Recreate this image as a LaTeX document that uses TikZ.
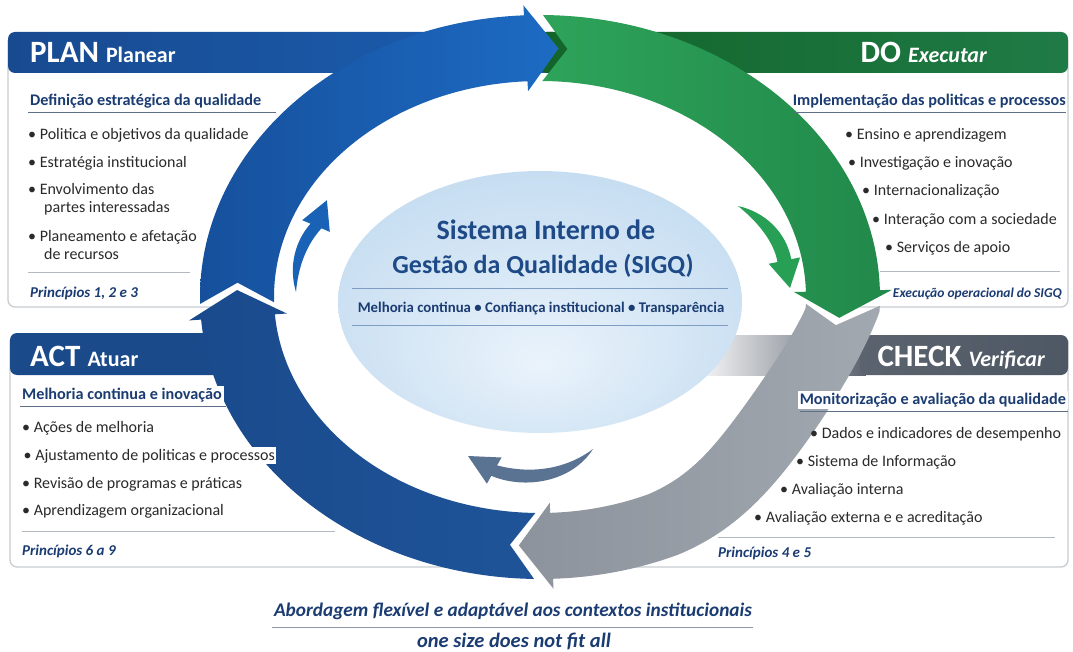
\documentclass[tikz,border=0pt]{standalone}
\usepackage{fontspec}
\setmainfont{Carlito}
\definecolor{bulc}{HTML}{2A2A2A}
\definecolor{navy}{HTML}{1B3C72}
\definecolor{titleblue}{HTML}{1E4A88}
\definecolor{sepgray}{HTML}{B4B9BF}
\definecolor{boxgray}{HTML}{C9CDD2}
\definecolor{ulgray}{HTML}{5E6F88}
\definecolor{planL}{HTML}{184A90}
\definecolor{planR}{HTML}{1B5FB2}
\definecolor{doH}{HTML}{1F7B46}
\definecolor{actH}{HTML}{1B4A8A}
\definecolor{chkD}{HTML}{5A636E}
\definecolor{chkE}{HTML}{4E5864}
\definecolor{ringPL}{HTML}{16509C}
\definecolor{ringPR}{HTML}{1D6BC4}
\definecolor{ringDL}{HTML}{2EA35A}
\definecolor{ringDR}{HTML}{21894A}
\definecolor{ringCL}{HTML}{8C939C}
\definecolor{ringCR}{HTML}{A2A8B0}
\definecolor{ringAL}{HTML}{194A8C}
\definecolor{ringAR}{HTML}{1F5499}
\definecolor{smB}{HTML}{1A62B5}
\definecolor{smG}{HTML}{27A055}
\definecolor{smS}{HTML}{5B7392}
\definecolor{ellA}{HTML}{EAF3FB}
\definecolor{ellB}{HTML}{C6DDF1}
\definecolor{ellC}{HTML}{A4C6E4}
\definecolor{ellLine}{HTML}{7F9DC2}
\pgfdeclareradialshading{ellshade}{\pgfpoint{0bp}{-12bp}}{color(0bp)=(ellA); color(30bp)=(ellB); color(50bp)=(ellC)}
\usetikzlibrary{calc}
\def\dent#1{(30*sin(max(0,min(180,(0-(#1)-3)*2.857))))}
\newcommand\ringseg[3]{%
 \pgfmathsetmacro\hb{#3+6.2}%
 \pgfmathsetmacro\nt{#2-4.7}%
 \shade[#1] plot[domain=#2:\hb, samples=80] ({540+(340-\dent{\x})*cos(\x)},{297-282*sin(\x)})
   -- ({540+(352-\dent{\hb})*cos(\hb)},{297-292*sin(\hb)})
   -- ({540+(303-\dent{#3})*cos(#3)},{297-249*sin(#3)})
   -- ({540+(254-\dent{\hb})*cos(\hb)},{297-206*sin(\hb)})
   -- plot[domain=\hb:#2, samples=80] ({540+(266-\dent{\x})*cos(\x)},{297-216*sin(\x)})
   -- ({540+(303-\dent{\nt})*cos(\nt)},{297-249*sin(\nt)}) -- cycle;}
\newcommand\hdrtext[2]{\fontsize{31}{33}\selectfont\bfseries #1\ \fontsize{22}{24}\selectfont #2}
\begin{document}
\begin{tikzpicture}[x=1pt,y=-1pt,
  bul/.style={anchor=base west, inner sep=0pt, text=bulc, font=\fontsize{16}{18}\selectfont},
  sub/.style={anchor=base west, inner sep=0pt, text=navy, font=\bfseries\fontsize{16.2}{19}\selectfont},
  subw/.style={sub, fill=white, inner sep=2pt},
  princ/.style={anchor=base west, inner sep=0pt, text=navy, font=\bfseries\itshape\fontsize{15}{17}\selectfont},
  hdr/.style={inner sep=0pt, text=white},
  boxb/.style={draw=boxgray, line width=1.3pt, rounded corners=7},
  sepl/.style={draw=sepgray, line width=1pt},
  ulin/.style={draw=ulgray, line width=0.9pt}]
\useasboundingbox (0,0) rectangle (1073,652);
\fill[white] (0,0) rectangle (1073,652);
% ---------- boxes ----------
\draw[boxb] (240,307) -- (8,307) -- (8,40);
\draw[boxb] (1068,40) -- (1068,307) -- (845,307);
\draw[boxb] (10,340) -- (10,567) -- (450,567);
\draw[boxb] (1068,340) -- (1068,567) -- (630,567);
% ---------- headers ----------
\shade[left color=planL, right color=planR, rounded corners=7] (8,32) rectangle (560,73);
\shade[left color=doH!85!green!70!black, right color=doH, rounded corners=7] (540,32) rectangle (1068,73);
\fill[actH, rounded corners=7] (10,333) rectangle (240,375);
\shade[left color=white, right color=chkD] (690,335) rectangle (866,375);
\shade[left color=chkD, right color=chkE, rounded corners=7] (860,335) rectangle (1068,375);
% ---------- ring ----------
\ringseg{left color=ringDL, right color=ringDR}{89.5}{-4.8}
\ringseg{left color=ringCL, right color=ringCR}{-1.8}{-94}
\ringseg{left color=ringAL, right color=ringAR}{-91}{-181.6}
\ringseg{left color=ringPL, right color=ringPR}{181.4}{86.5}
% ---------- small arrows ----------
\fill[smB] (296,292) .. controls (288,265) and (296,240) .. (310.5,223.7) -- (302.2,220.2) -- (326.9,200.2) -- (329.8,231.9) -- (321.5,228.3) .. controls (306,245) and (298,268) .. (296,292) -- cycle;
\fill[smG] (738,206) .. controls (765,212) and (786,232) .. (791.3,259.2) -- (800.1,257.4) -- (790,288) -- (768.7,263.8) -- (777.5,262.0) .. controls (774,242) and (758,222) .. (738,206) -- cycle;
\fill[smS] (593,449) .. controls (565,470) and (530,474) .. (497.1,465.4) -- (501.5,457.5) -- (468,456) -- (486.9,483.7) -- (491.3,475.8) .. controls (525,490) and (572,482) .. (593,449) -- cycle;
% ---------- center ellipse ----------
\shade[shading=ellshade] (540,302) ellipse [x radius=202, y radius=131];
\node[anchor=base, inner sep=0pt, text=titleblue, font=\bfseries\fontsize{28}{32}\selectfont] (t1) at (546,240) {Sistema Interno de};
\node[anchor=base, inner sep=0pt, text=titleblue, font=\bfseries\fontsize{26}{30}\selectfont] (t2) at (543,274) {Gestão da Qualidade (SIGQ)};
\draw[draw=ellLine, line width=1pt] (352,288) -- (728,288);
\node[anchor=base, inner sep=0pt, text=navy, font=\bfseries\fontsize{14.8}{17}\selectfont] (t3) at (541,312) {Melhoria continua • Confiança institucional • Transparência};
\draw[draw=ellLine, line width=1pt] (352,325) -- (728,325);
% ---------- PLAN ----------
\node[hdr, anchor=base west] (planh) at (30,63) {\hdrtext{PLAN}{Planear}};
\node[sub] (ps) at (30,106) {Definição estratégica da qualidade};
\draw[ulin] (28,112) -- (276,112);
\node[bul] (p1) at (28,140) {• Politica e objetivos da qualidade};
\node[bul] (p2) at (28,168) {• Estratégia institucional};
\node[bul] (p3) at (28,195) {• Envolvimento das};
\node[bul] (p3b) at (44,213) {partes interessadas};
\node[bul] (p4) at (28,242) {• Planeamento e afetação};
\node[bul] (p4b) at (44,260) {de recursos};
\draw[sepl] (28,273) -- (190,273);
\node[princ] (pp) at (30,298) {Princípios 1, 2 e 3};
% ---------- DO ----------
\node[hdr, anchor=base east] (doh) at (987,63) {\hdrtext{DO}{\itshape Executar}};
\node[sub, anchor=base east] (ds) at (1066,106) {Implementação das politicas e processos};
\draw[ulin] (794,112) -- (1066,112);
\node[bul] (d1) at (845,140) {• Ensino e aprendizagem};
\node[bul] (d2) at (848,168) {• Investigação e inovação};
\node[bul] (d3) at (862,196) {• Internacionalização};
\node[bul] (d4) at (872,225) {• Interação com a sociedade};
\node[bul] (d5) at (885,253) {• Serviços de apoio};
\draw[sepl] (880,272) -- (1060,272);
\node[princ, anchor=base east, font=\bfseries\itshape\fontsize{13.5}{15}\selectfont] (dp) at (1062,298) {Execução operacional do SIGQ};
% ---------- CHECK ----------
\node[hdr, anchor=base east] (chh) at (1045,366) {\hdrtext{CHECK}{\itshape Verificar}};
\node[subw, anchor=base east] (cs) at (1068,404) {Monitorização e avaliação da qualidade};
\draw[ulin] (800,411) -- (1068,411);
\node[bul] (c1) at (810,438) {• Dados e indicadores de desempenho};
\node[bul] (c2) at (796,466) {• Sistema de Informação};
\node[bul] (c3) at (780,494) {• Avaliação interna};
\node[bul] (c4) at (754,522) {• Avaliação externa e e acreditação};
\draw[sepl] (718,537) -- (1055,537);
\node[princ] (cp) at (718,557) {Princípios 4 e 5};
% ---------- ACT ----------
\node[hdr, anchor=base west] (acth) at (30,366) {\hdrtext{ACT}{Atuar}};
\node[subw] (as) at (20,399) {Melhoria continua e inovação};
\draw[ulin] (20,406) -- (226,406);
\node[bul] (a1) at (22,432) {• Ações de melhoria};
\node[bul, fill=white, inner sep=1.5pt] (a2) at (22,460) {• Ajustamento de politicas e processos};
\node[bul] (a3) at (22,488) {• Revisão de programas e práticas};
\node[bul] (a4) at (22,515) {• Aprendizagem organizacional};
\draw[sepl] (22,531) -- (335,531);
\node[princ] (ap) at (22,555) {Princípios 6 a 9};
% ---------- bottom ----------
\node[anchor=base, inner sep=0pt, text=navy, font=\bfseries\itshape\fontsize{19.3}{22}\selectfont] (b1) at (513,616) {Abordagem flexível e adaptável aos contextos institucionais};
\draw[sepl, draw=ulgray!70] (272,627) -- (753,627);
\node[anchor=base, inner sep=0pt, text=navy, font=\bfseries\itshape\fontsize{20.5}{23}\selectfont] (b2) at (514,647) {one size does not fit all};
\end{tikzpicture}
\end{document}
